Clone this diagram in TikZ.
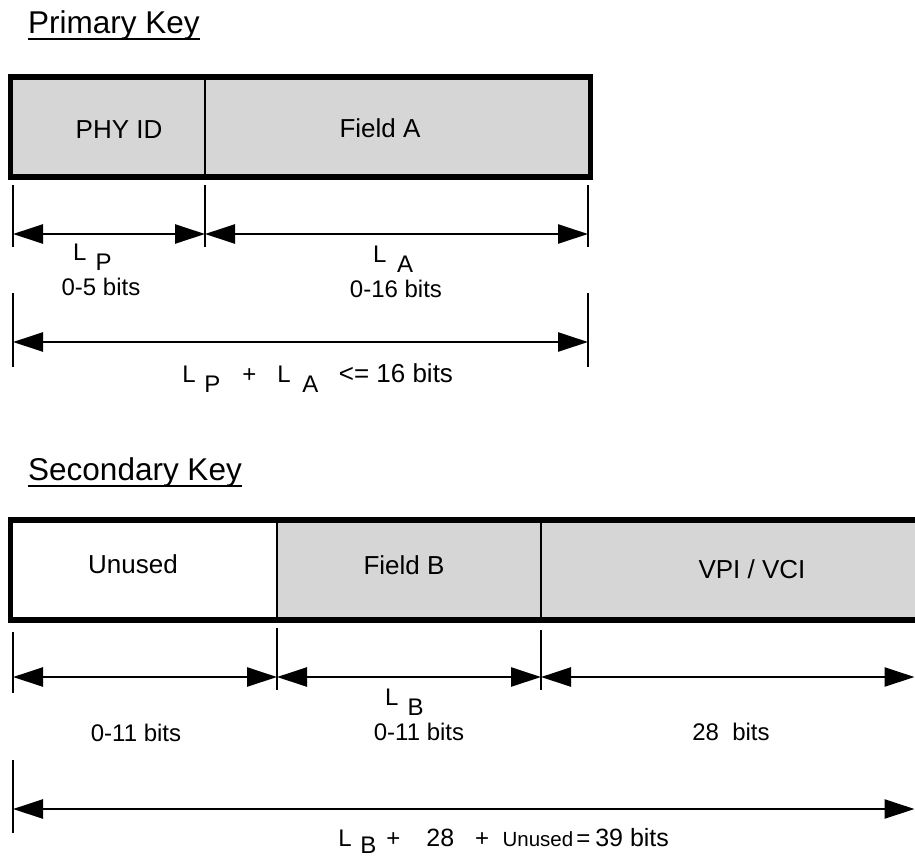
\documentclass[tikz,border=0pt]{standalone}
\usepackage{fontspec}
\setmainfont{Liberation Sans}
\usetikzlibrary{arrows.meta}
\definecolor{shadegray}{gray}{0.84}
\begin{document}
\begin{tikzpicture}[x=1bp,y=-1bp,
  fieldbox/.style={draw=black, line width=2bp, minimum height=100bp, inner sep=0pt, outer sep=0pt, anchor=north west},
  shaded/.style={fill=shadegray},
  plain/.style={fill=white},
  frame/.style={draw=black, line width=5.5bp},
  tickline/.style={draw=black, line width=2.5bp},
  dimarrow/.style={draw=black, line width=2.6bp, {Triangle[length=30bp,width=19bp]}-{Triangle[length=30bp,width=19bp]}},
  boxtxt/.style={font=\fontsize{26bp}{30bp}\selectfont, inner sep=0pt, anchor=base},
  lbl/.style={font=\fontsize{24bp}{28bp}\selectfont, inner sep=0pt, anchor=base},
  formula/.style={font=\fontsize{24bp}{28bp}\selectfont, inner sep=0pt, anchor=base west},
  ttl/.style={font=\fontsize{31.5bp}{36bp}\selectfont, inner sep=0pt, anchor=base west},
  uline/.style={draw=black, line width=1.8bp}
]
\useasboundingbox (0,0) rectangle (915,859);

% ---------------- Primary key ----------------
\node[ttl] (t1) at (28,33) {Primary Key};
\draw[uline] ([yshift=-6bp]t1.base west) -- ([yshift=-6bp]t1.base east);

\node[fieldbox, shaded, minimum width=194.5bp] (phy) at (10.5,77) {};
\node[fieldbox, shaded, minimum width=385.5bp] (fa) at (205,77) {};
\draw[frame] (phy.north west) rectangle (fa.south east);
\node[boxtxt] (phytxt) at (119,138) {PHY ID};
\node[boxtxt] (fatxt) at (380,137) {Field A};

% ticks row 1
\coordinate (p1t) at (13,185);  \coordinate (p1b) at (13,247);
\coordinate (p2t) at (205,185); \coordinate (p2b) at (205,247);
\coordinate (p3t) at (588,185); \coordinate (p3b) at (588,247);
\draw[tickline] (p1t) -- (p1b);
\draw[tickline] (p2t) -- (p2b);
\draw[tickline] (p3t) -- (p3b);
\coordinate (pa1) at (13,234); \coordinate (pa2) at (205,234); \coordinate (pa3) at (588,234);
\draw[dimarrow] (pa1) -- (pa2);
\draw[dimarrow] (pa2) -- (pa3);

\node[formula] (lp) at (73,260) {L\hspace{9bp}\raisebox{-10bp}{P}};
\node[lbl] (lp2) at (101,295) {0-5 bits};
\node[formula] (la) at (373,262) {L\hspace{10.5bp}\raisebox{-10bp}{A}};
\node[lbl] (la2) at (396,297) {0-16 bits};

% ticks row 2
\coordinate (q1t) at (13,293);  \coordinate (q1b) at (13,367);
\coordinate (q3t) at (588,293); \coordinate (q3b) at (588,367);
\draw[tickline] (q1t) -- (q1b);
\draw[tickline] (q3t) -- (q3b);
\coordinate (qa1) at (13,342); \coordinate (qa3) at (588,342);
\draw[dimarrow] (qa1) -- (qa3);

\node[formula] (sum1) at (182.2,382) {L\hspace{8.7bp}\raisebox{-10bp}{P}\hspace{21.8bp}+\hspace{21.2bp}L\hspace{11.5bp}\raisebox{-10bp}{A}\hspace{20.5bp}{\fontsize{26bp}{30bp}\selectfont <= 16 bits}};

% ---------------- Secondary key ----------------
\node[ttl] (t2) at (28,480) {Secondary Key};
\draw[uline] ([yshift=-6bp]t2.base west) -- ([yshift=-6bp]t2.base east);

\node[fieldbox, plain, minimum width=266.5bp] (un) at (10.5,520) {};
\node[fieldbox, shaded, minimum width=264bp] (fb) at (277,520) {};
\node[fieldbox, shaded, minimum width=400bp] (vpi) at (541,520) {};
\draw[frame] (un.north west) rectangle (vpi.south east);
\node[boxtxt] (untxt) at (133,573) {Unused};
\node[boxtxt] (fbtxt) at (404,574) {Field B};
\node[boxtxt] (vpitxt) at (752,578) {VPI / VCI};

% ticks row 3
\coordinate (s1t) at (13,632);  \coordinate (s1b) at (13,693);
\coordinate (s2t) at (277,628); \coordinate (s2b) at (277,690);
\coordinate (s3t) at (541,630); \coordinate (s3b) at (541,690);
\draw[tickline] (s1t) -- (s1b);
\draw[tickline] (s2t) -- (s2b);
\draw[tickline] (s3t) -- (s3b);
\coordinate (sa1) at (13,677); \coordinate (sa2) at (277,677);
\coordinate (sa3) at (541,677); \coordinate (sa4) at (914.5,677);
\draw[dimarrow] (sa1) -- (sa2);
\draw[dimarrow] (sa2) -- (sa3);
\draw[dimarrow] (sa3) -- (sa4);

\node[formula] (lb) at (385,705) {L\hspace{9bp}\raisebox{-10bp}{B}};
\node[lbl] (un2) at (136,741) {0-11 bits};
\node[lbl] (lb2) at (419,740) {0-11 bits};
\node[lbl] (vpi2) at (731,740) {28\ \ bits};

% bottom row
\coordinate (b1t) at (13,760); \coordinate (b1b) at (13,833);
\draw[tickline] (b1t) -- (b1b);
\coordinate (ba1) at (13,809); \coordinate (ba2) at (914.5,809);
\draw[dimarrow] (ba1) -- (ba2);

\node[formula] (sum2) at (338.2,846) {L\hspace{8.6bp}\raisebox{-7bp}{B}\hspace{10bp}+\hspace{26bp}{\fontsize{25bp}{28bp}\selectfont 28}\hspace{21bp}+\hspace{13.4bp}{\fontsize{20.5bp}{24bp}\selectfont Unused}\hspace{3bp}=\hspace{5bp}{\fontsize{25bp}{28bp}\selectfont 39 bits}};
\end{tikzpicture}
\end{document}
